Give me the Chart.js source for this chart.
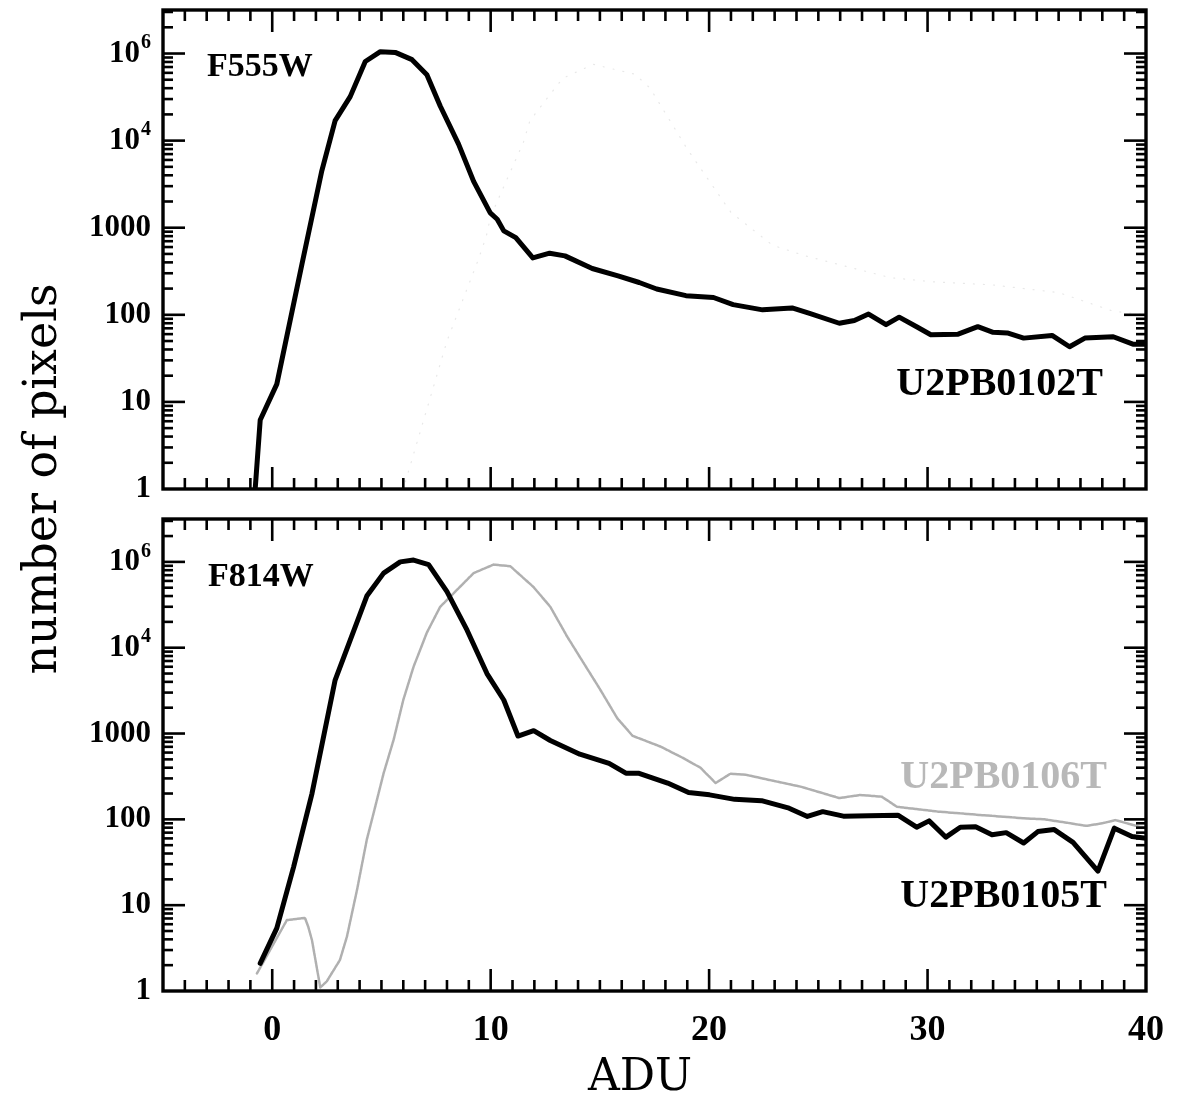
<!DOCTYPE html>
<html>
<head>
    <title>ADU histogram</title>
    <script src="https://cdn.jsdelivr.net/npm/chart.js"></script>
</head>
<body style="margin:0; background:#fff;">
    <div style="position:relative; width:1182px; height:1101px;">
        <canvas id="topChart" width="1182" height="1101" style="position:absolute; left:0; top:0;"></canvas>
        <canvas id="bottomChart" width="1182" height="1101" style="position:absolute; left:0; top:0;"></canvas>
    </div>
    <script>
        // 上图 F555W：U2PB0102T（黑线）
        const f555BlackX = [-0.78, -0.55, 0.21, 1.36, 2.27, 2.88, 3.57, 4.26, 4.95, 5.63, 6.4, 7.08, 7.69, 8.53, 9.22, 9.98, 10.3, 10.6, 11.15, 11.93, 12.7, 13.4, 14.65, 15.83, 16.8, 17.6, 18.94, 20.2, 21.1, 22.45, 23.8, 24.6, 25.96, 26.65, 27.3, 28.1, 28.7, 29.5, 30.15, 31.4, 32.3, 33.0, 33.65, 34.4, 35.7, 36.5, 37.2, 38.5, 39.4, 40];
        const f555BlackY = [1, 6.2, 16, 380, 4500, 17000, 32000, 81000, 105000, 103000, 85000, 57000, 25000, 9100, 3400, 1480, 1250, 920, 770, 450, 510, 475, 340, 280, 235, 198, 166, 158, 131, 114, 120, 104, 80, 86, 102, 77, 94, 73, 59, 60, 73, 63, 62, 54, 58, 43, 54, 56, 46, 46];
        // 上图里几乎看不见的灰线
        const f555GrayX = [3.6, 6.0, 8.0, 9.45, 9.8, 10.0, 11.5, 11.8, 12.6, 13.3, 14.7, 16.6, 17.3, 19, 21, 22.9, 24.4, 28.3, 30.2, 33, 36, 38.5, 40];
        const f555GrayY = [1, 1, 50, 440, 800, 1350, 9600, 17000, 31000, 52000, 75000, 58000, 40000, 8000, 1500, 630, 475, 267, 240, 220, 180, 110, 100];

        // 下图 F814W：U2PB0105T（黑线）、U2PB0106T（灰线）
        const f814BlackX = [-0.55, 0.21, 0.98, 1.82, 2.88, 4.33, 5.1, 5.86, 6.47, 7.16, 8.0, 8.92, 9.83, 10.6, 11.25, 11.97, 12.73, 14.08, 15.42, 16.19, 16.76, 18.1, 19.06, 20.02, 21.17, 22.4, 23.66, 24.5, 25.2, 26.15, 27.3, 28.64, 29.5, 30.07, 30.84, 31.5, 32.2, 32.95, 33.6, 34.4, 35.05, 35.8, 36.66, 37.8, 38.55, 39.36, 40];
        const f814BlackY = [2.1, 5.4, 28, 200, 4200, 40000, 74000, 100000, 105000, 93000, 45000, 16000, 5000, 2460, 935, 1080, 830, 575, 450, 345, 345, 265, 205, 193, 171, 165, 135, 108, 123, 109, 110, 112, 81, 96, 62, 81, 82, 66, 70, 53, 72, 76, 54, 25, 79, 63, 60];
        const f814GrayX = [-0.7, 0.67, 1.5, 1.65, 1.82, 2.2, 2.5, 3.1, 3.42, 3.88, 4.33, 4.64, 5.1, 5.56, 6.0, 6.47, 7.08, 7.69, 8.3, 9.22, 10.13, 10.9, 11.96, 12.73, 13.5, 14.26, 15.0, 15.8, 16.5, 17.8, 18.8, 19.6, 20.3, 20.97, 21.7, 22.7, 24.2, 25.96, 26.9, 27.9, 28.6, 30.5, 32.5, 34.4, 35.35, 36.3, 37.26, 38.0, 38.6, 39.7, 40];
        const f814GrayY = [1.6, 6.7, 7.1, 5.6, 3.9, 1.1, 1.3, 2.3, 4.3, 15, 58, 118, 345, 850, 2460, 6000, 15000, 30000, 43000, 74000, 93000, 89000, 51000, 30000, 13500, 6600, 3300, 1500, 940, 700, 520, 400, 265, 340, 330, 290, 240, 177, 192, 184, 140, 123, 112, 103, 100, 92, 84, 90, 98, 82, 80];

        // 坐标轴刻度
        const xMin = -5, xMax = 40;
        const xMajorTicks = [0, 10, 20, 30];
        const xTickLabels = ['0', '10', '20', '30', '40'];
        const xLabelValues = [0, 10, 20, 30, 40];
        const yMin = 1, yMax = 316000;
        const yMajorTicks = [1, 10, 100, 1000, 10000, 100000];
        const yTickLabels = ['1', '10', '100', '1000', '10^4', '10^6'];

        const toPoints = (xs, ys) => xs.map((x, i) => ({ x: x, y: ys[i] }));

        function line(ctx, x1, y1, x2, y2) {
            ctx.beginPath(); ctx.moveTo(x1, y1); ctx.lineTo(x2, y2); ctx.stroke();
        }

        // 右对齐画 "10^4" 这种带上标的标签
        function drawPowLabel(ctx, text, x, y, size) {
            const parts = text.split('^');
            const baseFont = 'bold ' + size + 'px "Liberation Serif"';
            const supFont = 'bold ' + Math.round(size * 0.64) + 'px "Liberation Serif"';
            ctx.font = baseFont;
            const wb = ctx.measureText(parts[0]).width;
            let ws = 0;
            if (parts[1]) { ctx.font = supFont; ws = ctx.measureText(parts[1]).width + 1; }
            const x0 = x - wb - ws;
            ctx.textAlign = 'left';
            ctx.textBaseline = 'middle';
            ctx.font = baseFont;
            ctx.fillText(parts[0], x0, y);
            if (parts[1]) {
                ctx.font = supFont;
                ctx.fillText(parts[1], x0 + wb + 1, y - size * 0.34);
            }
        }

        const framePlugin = {
            id: 'frame',
            afterDatasetsDraw(chart, args, opts) {
                const ctx = chart.ctx;
                const a = chart.chartArea;
                const xs = chart.scales.x, ys = chart.scales.y;
                ctx.save();
                ctx.strokeStyle = '#000';
                ctx.fillStyle = '#000';
                ctx.lineWidth = 2.6;
                // x 刻度（上下两边，向内）
                for (let v = xMin + 1; v < xMax; v++) {
                    const px = xs.getPixelForValue(v);
                    const len = xMajorTicks.includes(v) ? 22 : 11;
                    line(ctx, px, a.bottom, px, a.bottom - len);
                    line(ctx, px, a.top, px, a.top + len);
                }
                // y 刻度（左右两边，向内）
                for (const d of yMajorTicks) {
                    for (let m = 1; m <= 9; m++) {
                        const v = d * m;
                        if (v <= yMin || v >= yMax) continue;
                        const py = ys.getPixelForValue(v);
                        const len = m === 1 ? 22 : 10;
                        line(ctx, a.left, py, a.left + len, py);
                        line(ctx, a.right, py, a.right - len, py);
                    }
                }
                ctx.lineWidth = 3.4;
                ctx.strokeRect(a.left, a.top, a.width, a.height);

                // y 刻度标签
                yMajorTicks.forEach((v, i) => {
                    drawPowLabel(ctx, yTickLabels[i], a.left - 12, ys.getPixelForValue(v), 31);
                });

                // 面板文字
                ctx.textBaseline = 'alphabetic';
                for (const t of opts.texts) {
                    ctx.font = 'bold ' + t.size + 'px "Liberation Serif"';
                    ctx.fillStyle = t.color;
                    ctx.textAlign = t.align;
                    ctx.fillText(t.text, t.align === 'left' ? a.left + t.dx : a.right - t.dx, a.top + t.dy);
                }

                if (opts.bottomAxis) {
                    ctx.fillStyle = '#000';
                    ctx.font = 'bold 36px "Liberation Serif"';
                    ctx.textAlign = 'center';
                    ctx.textBaseline = 'middle';
                    xLabelValues.forEach((v, i) => {
                        ctx.fillText(xTickLabels[i], xs.getPixelForValue(v), a.bottom + 40);
                    });
                    ctx.font = '44px "DejaVu Serif"';
                    ctx.fillText('ADU', 640, a.bottom + 88);
                    ctx.save();
                    ctx.translate(44, 479);
                    ctx.rotate(-Math.PI / 2);
                    ctx.font = '46px "DejaVu Serif"';
                    ctx.fillText('number of pixels', 0, 0);
                    ctx.restore();
                }
                ctx.restore();
            }
        };

        function makeChart(id, datasets, padding, frameOpts) {
            return new Chart(document.getElementById(id), {
                type: 'line',
                data: { datasets: datasets },
                options: {
                    responsive: false,
                    animation: false,
                    layout: { padding: padding },
                    elements: { point: { radius: 0 }, line: { tension: 0, borderJoinStyle: 'round', borderCapStyle: 'round' } },
                    scales: {
                        x: { type: 'linear', min: xMin, max: xMax, display: false },
                        y: { type: 'logarithmic', min: yMin, max: yMax, display: false }
                    },
                    plugins: {
                        legend: { display: false },
                        tooltip: { enabled: false },
                        frame: frameOpts
                    }
                },
                plugins: [framePlugin]
            });
        }

        makeChart('topChart', [
            { label: 'U2PB0102T', data: toPoints(f555BlackX, f555BlackY), borderColor: '#000', borderWidth: 5 },
            { label: 'gray', data: toPoints(f555GrayX, f555GrayY), borderColor: 'rgba(205,205,205,0.45)', borderWidth: 1.2, borderDash: [1, 9] }
        ], { left: 163, right: 36, top: 10, bottom: 612 }, {
            bottomAxis: false,
            texts: [
                { text: 'F555W', dx: 44, dy: 66, size: 34, align: 'left', color: '#000' },
                { text: 'U2PB0102T', dx: 43, dy: 385, size: 40, align: 'right', color: '#000' }
            ]
        });

        makeChart('bottomChart', [
            { label: 'U2PB0105T', data: toPoints(f814BlackX, f814BlackY), borderColor: '#000', borderWidth: 5 },
            { label: 'U2PB0106T', data: toPoints(f814GrayX, f814GrayY), borderColor: '#b0b0b0', borderWidth: 2.5, borderDash: [3, 1] }
        ], { left: 163, right: 36, top: 519, bottom: 110 }, {
            bottomAxis: true,
            texts: [
                { text: 'F814W', dx: 45, dy: 67, size: 34, align: 'left', color: '#000' },
                { text: 'U2PB0106T', dx: 39, dy: 269, size: 40, align: 'right', color: '#b8b8b8' },
                { text: 'U2PB0105T', dx: 39, dy: 388, size: 40, align: 'right', color: '#000' }
            ]
        });
    </script>
</body>
</html>
